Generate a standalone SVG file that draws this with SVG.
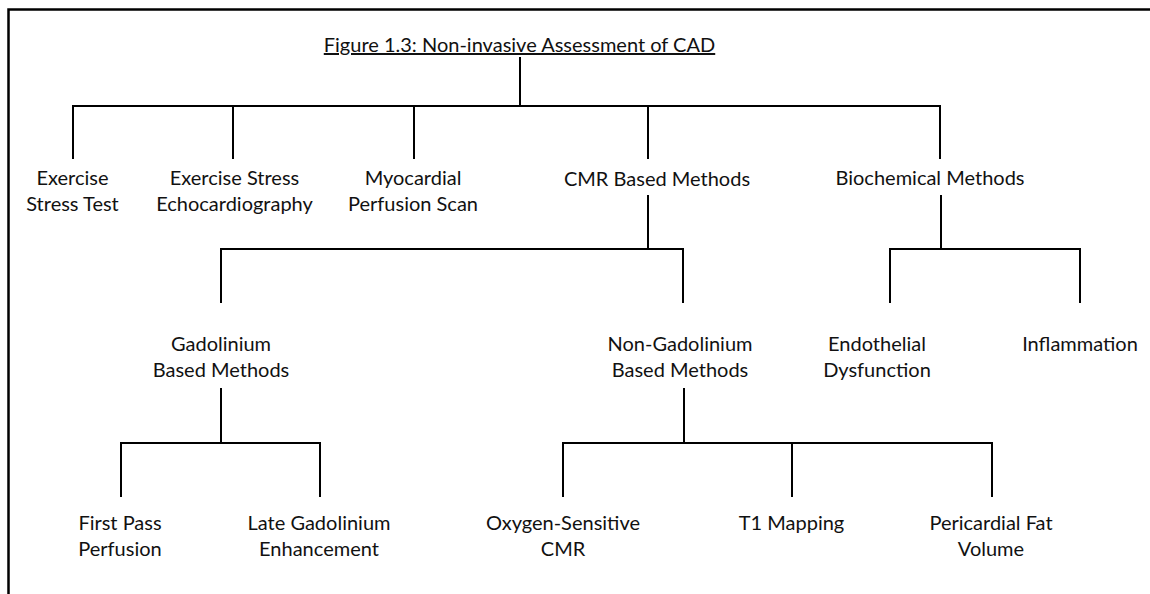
<svg xmlns="http://www.w3.org/2000/svg" width="1150" height="594" viewBox="0 0 1150 594">
<style>
text{font-family:Lato,"Open Sans","Liberation Sans",sans-serif;font-size:20px;fill:#111;text-anchor:middle}
.c{fill:none;stroke:#000;stroke-width:2;stroke-linecap:square;stroke-linejoin:miter}
.frame{fill:none;stroke:#000;stroke-width:2.5}
.title{text-decoration:underline}
</style>
<rect width="1150" height="594" fill="#fff"/>
<path class="frame" d="M8.5,600 V9.5 H1160"/>
<g id="title"><text class="title" x="519.5" y="52">Figure 1.3: Non-invasive Assessment of CAD</text></g>
<g id="connectors">
<path class="c" d="M520,58 V106 M73,158 V106 H940 V158 M233,106 V158 M414,106 V158 M648,106 V158"/>
<path class="c" d="M648,196 V249 M221,302 V249 H683 V302"/>
<path class="c" d="M941,196 V249 M890,302 V249 H1080 V302"/>
<path class="c" d="M221,389 V443 M121,496 V443 H320 V496"/>
<path class="c" d="M684,389 V443 M563,496 V443 H992 V496 M792,443 V496"/>
</g>
<g id="n-exercise-stress-test"><text x="72.5" y="185">Exercise</text><text x="72.5" y="211">Stress Test</text></g>
<g id="n-exercise-stress-echo"><text x="234.5" y="185">Exercise Stress</text><text x="234.5" y="211">Echocardiography</text></g>
<g id="n-myocardial-perfusion"><text x="413" y="185">Myocardial</text><text x="413" y="211">Perfusion Scan</text></g>
<g id="n-cmr"><text x="657" y="186">CMR Based Methods</text></g>
<g id="n-biochemical"><text x="930" y="185">Biochemical Methods</text></g>
<g id="n-gadolinium"><text x="221" y="351">Gadolinium</text><text x="221" y="377">Based Methods</text></g>
<g id="n-non-gadolinium"><text x="680" y="351">Non-Gadolinium</text><text x="680" y="377">Based Methods</text></g>
<g id="n-endothelial"><text x="877" y="351">Endothelial</text><text x="877" y="377">Dysfunction</text></g>
<g id="n-inflammation"><text x="1080" y="351">Inflammation</text></g>
<g id="n-first-pass"><text x="120" y="530">First Pass</text><text x="120" y="556">Perfusion</text></g>
<g id="n-lge"><text x="319" y="530">Late Gadolinium</text><text x="319" y="556">Enhancement</text></g>
<g id="n-oxygen"><text x="563" y="530">Oxygen-Sensitive</text><text x="563" y="556">CMR</text></g>
<g id="n-t1"><text x="791.5" y="530">T1 Mapping</text></g>
<g id="n-fat"><text x="991" y="530">Pericardial Fat</text><text x="991" y="556">Volume</text></g>
</svg>
